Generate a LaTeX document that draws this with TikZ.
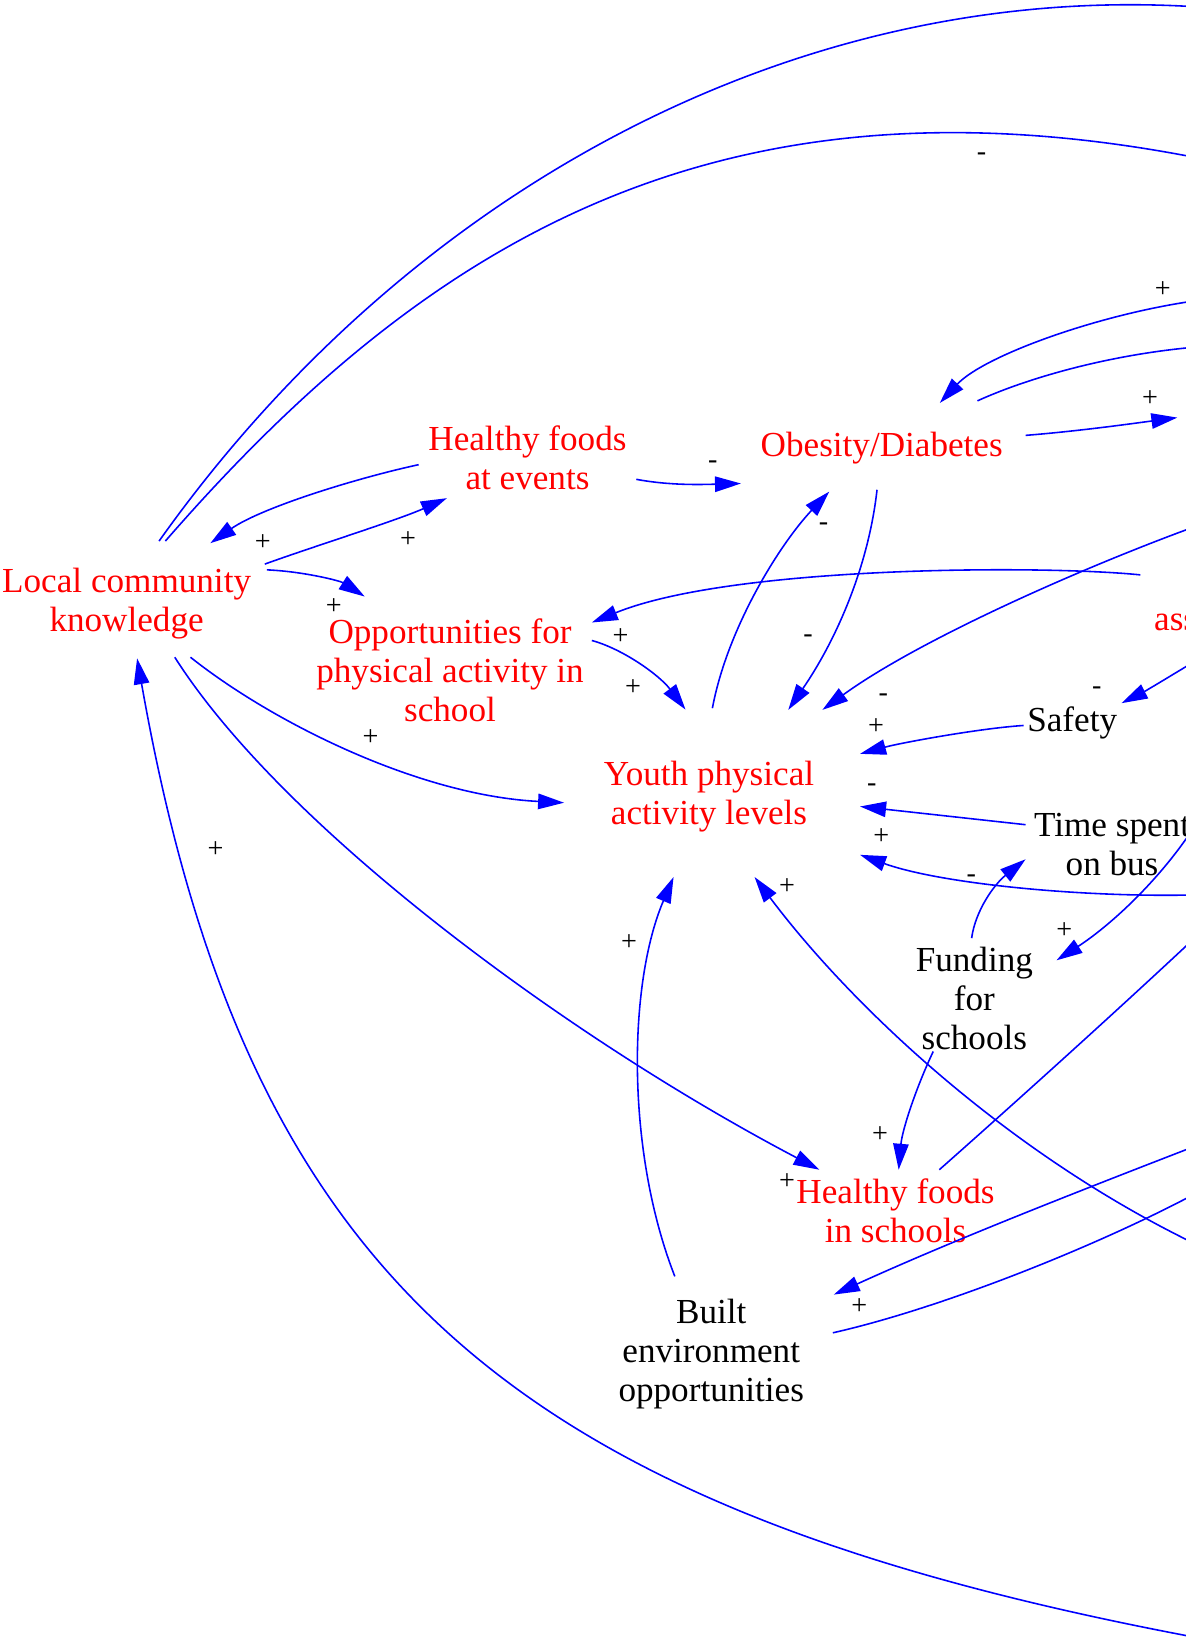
\documentclass[tikz,border=0pt]{standalone}
\usepackage{fontspec}
\setmainfont{Liberation Serif}
\usetikzlibrary{arrows.meta,calc}
\definecolor{linkblue}{RGB}{0,0,255}
\definecolor{varred}{RGB}{255,0,0}
\tikzset{
  var/.style={text=varred, align=center, inner sep=0pt, font=\fontsize{10}{11.1}\selectfont},
  aux/.style={var, text=black},
  plain/.style={draw=linkblue, line width=0.45pt},
  link/.style={plain, -{Triangle[length=7.4pt,width=4.4pt]}},
  pol/.style={font=\fontsize{8}{8}\selectfont, inner sep=0pt, text=black},
}
\begin{document}
\begin{tikzpicture}[x=0.010468cm, y=-0.010468cm]
\useasboundingbox (0,0) rectangle (1133,1568);
\clip (0,0) rectangle (1133,1568);

% variables
\node[var] (local) at (121,577) {Local community\\knowledge};
\node[var] (hfe) at (504,437.5) {Healthy foods\\at events};
\node[var] (obes) at (842.5,428) {Obesity/Diabetes};
\node[var] (opp) at (430,640) {Opportunities for\\physical activity in\\school};
\node[var] (youth) at (677.5,761) {Youth physical\\activity levels};
\node[aux] (safety) at (1024.5,691) {Safety};
\node[aux] (bus) at (1062.6,806.5) {Time spent\\on bus};
\node[aux] (fund) at (931,954.5) {Funding\\for\\schools};
\node[var] (hfs) at (855.7,1156.5) {Healthy foods\\in schools};
\node[aux] (built) at (679.6,1293.7) {Built\\environment\\opportunities};
\node[var] (assets) at (1142,593) {assets};

% ends of links that continue past the right border
\coordinate (oA1) at (1150,7);
\coordinate (oA2) at (1150,152);
\coordinate (oObIn) at (1145,287);
\coordinate (oObOut) at (1150,331);
\coordinate (oObR) at (1125,399);
\coordinate (oYouthA) at (1145,502);
\coordinate (oSafety) at (1148,628);
\coordinate (oFund) at (1145,784);
\coordinate (oYouthB) at (1145,855);
\coordinate (oHfs) at (1145,893);
\coordinate (oBuiltIn) at (1145,1094);
\coordinate (oBuiltOut) at (1145,1139);
\coordinate (oYouthC) at (1145,1190);
\coordinate (oLocal) at (1145,1565);

% links
\draw[plain] ($(local)+(31,-60)$) .. controls (395,175) and (770,-20) .. (oA1);
\draw[plain] ($(local)+(37,-60)$) .. controls (406,232) and (685,59) .. (oA2);
\draw[link] ($(hfe)+(-104,6.5)$) .. controls (340,457) and (250,485) .. ($(local)+(80,-58)$);
\draw[link] ($(local)+(132,-38)$) .. controls (300,522) and (380,497) .. ($(hfe)+(-77,38.5)$);
\draw[link] ($(local)+(134,-32.5)$) .. controls (290,546) and (325,555) .. ($(opp)+(-81.5,-70)$);
\draw[link] ($(hfe)+(104,20.5)$) .. controls (640,464) and (670,463) .. ($(obes)+(-134.5,34)$);
\draw[link] ($(local)+(61,51)$) .. controls (260,690) and (400,760) .. ($(youth)+(-138.5,6)$);
\draw[link] ($(local)+(46,51)$) .. controls (270,790) and (540,990) .. ($(hfs)+(-72.7,-38.8)$);
\draw[link] (oLocal) .. controls (490,1442) and (236,1225) .. ($(local)+(10,52)$);

\draw[link] ($(youth)+(3.2,-84.3)$) .. controls (695,600) and (745,520) .. ($(obes)+(-50.1,41.7)$);
\draw[link] ($(obes)+(-4.5,40)$) .. controls (830,540) and (800,610) .. ($(youth)+(75.7,-82.7)$);
\draw[link] (oObIn) .. controls (1050,300) and (940,340) .. ($(obes)+(55.5,-43)$);
\draw[plain] ($(obes)+(91.5,-45)$) .. controls (980,362) and (1060,338) .. (oObOut);
\draw[link] ($(obes)+(137.5,-12)$) .. controls (1030,412) and (1080,405) .. (oObR);

\draw[link] ($(opp)+(135.5,-28)$) .. controls (595,620) and (630,645) .. ($(youth)+(-22.5,-83)$);
\draw[link] (oYouthA) .. controls (1040,540) and (880,610) .. ($(youth)+(108.3,-82.7)$);
\draw[link] ($(assets)+(-52.4,-43.7)$) .. controls (1000,540) and (700,540) .. ($(opp)+(135.5,-45.2)$);
\draw[link] (oSafety) .. controls (1120,645) and (1095,660) .. ($(safety)+(47.1,-19.1)$);
\draw[link] ($(safety)+(-46.5,2.2)$) .. controls (935,696) and (860,710) .. ($(youth)+(144.3,-40.7)$);
\draw[link] ($(bus)+(-82.6,-18.5)$) -- ($(youth)+(144.3,9.6)$);
\draw[link] (oYouthB) .. controls (1040,858) and (900,845) .. ($(youth)+(144.3,55.8)$);
\draw[link] ($(fund)+(-2.6,-58.1)$) .. controls (932,870) and (950,845) .. ($(bus)+(-82.6,14.5)$);
\draw[link] (oFund) .. controls (1110,840) and (1060,885) .. ($(fund)+(78.5,-36.9)$);
\draw[link] ($(fund)+(-39.3,50.2)$) .. controls (875,1040) and (862,1080) .. ($(hfs)+(3,-38.8)$);
\draw[plain] ($(hfs)+(41.8,-38.8)$) .. controls (965,1058) and (1065,968) .. (oHfs);
\draw[link] (oYouthC) .. controls (960,1101) and (811,958) .. ($(youth)+(43.5,77)$);
\draw[link] (oBuiltIn) .. controls (1000,1150) and (900,1190) .. ($(built)+(117.1,-56.7)$);
\draw[plain] ($(built)+(116.2,-20.2)$) .. controls (900,1250) and (1050,1190) .. (oBuiltOut);
\draw[link] ($(built)+(-34.8,-74.1)$) .. controls (598,1100) and (600,940) .. ($(youth)+(-33.9,77)$);

% polarities
\node[pol] (p1) at (938,150) {-};
\node[pol] (p2) at (1111,277) {+};
\node[pol] (p3) at (1099,381) {+};
\node[pol] (p4) at (681,444) {-};
\node[pol] (p5) at (251,518) {+};
\node[pol] (p6) at (390,516) {+};
\node[pol] (p7) at (319,580) {+};
\node[pol] (p8) at (787,503) {-};
\node[pol] (p9) at (593,608) {+};
\node[pol] (p10) at (772,610) {-};
\node[pol] (p11) at (605,657) {+};
\node[pol] (p12) at (844,667) {-};
\node[pol] (p13) at (1048,660) {-};
\node[pol] (p14) at (837,694) {+};
\node[pol] (p15) at (354,705) {+};
\node[pol] (p16) at (833,753) {-};
\node[pol] (p17) at (842,799) {+};
\node[pol] (p18) at (206,812) {+};
\node[pol] (p19) at (928,840) {-};
\node[pol] (p20) at (752,847) {+};
\node[pol] (p21) at (1017,889) {+};
\node[pol] (p22) at (601,901) {+};
\node[pol] (p23) at (841,1084) {+};
\node[pol] (p24) at (752,1129) {+};
\node[pol] (p25) at (821,1248) {+};
\end{tikzpicture}
\end{document}
